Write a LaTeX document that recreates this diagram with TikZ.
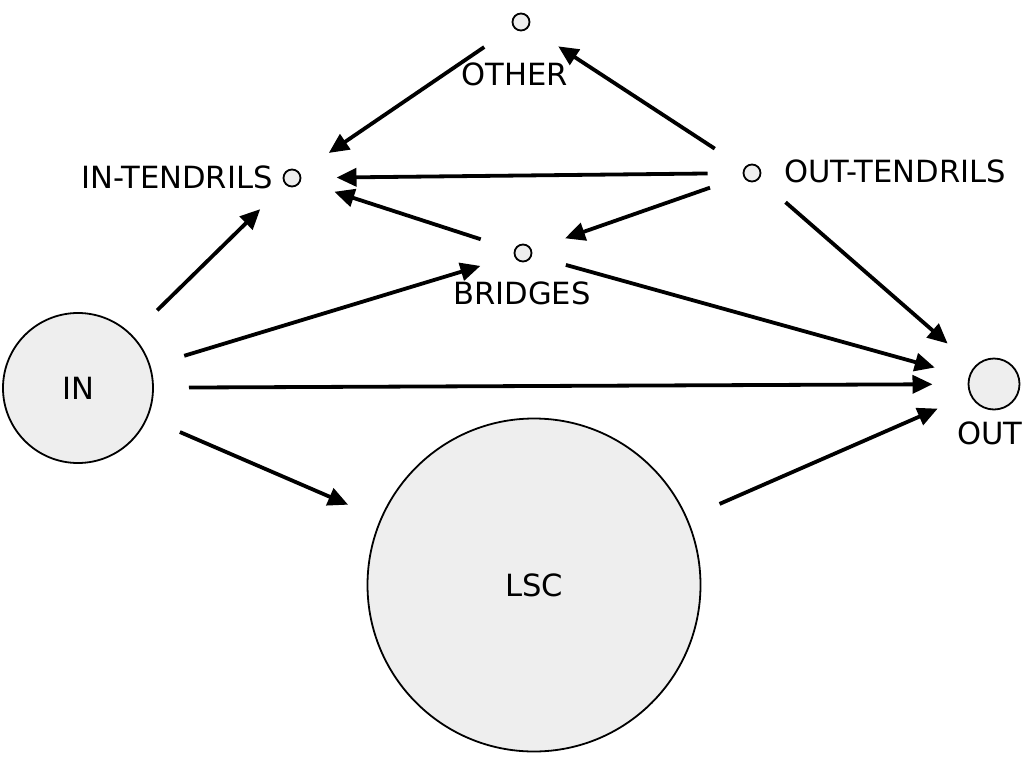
\documentclass[tikz,border=0pt]{standalone}
\usepackage{fontspec}
\setmainfont{DejaVu Sans}
\usepackage{xcolor}
\definecolor{Col1}{RGB}{238,238,238}
\usetikzlibrary{arrows.meta}
\tikzstyle{Node}=[circle,draw=black,fill=Col1,line width=1.8pt,
inner sep=0pt,outer sep=0pt]
\tikzstyle{Edge}=[draw=black,line width=3.8pt,
-{Triangle[length=20pt,width=18pt]},shorten <=36pt,shorten >=36pt]
\tikzstyle{NodeST}=[font=\fontsize{30.6}{36}\selectfont,inner sep=0pt]

\begin{document}
\begin{tikzpicture}[x=1pt,y=-1pt]
        \useasboundingbox(0,0)rectangle(1024,768);
        \node[Node,NodeST,minimum size=150pt](In)at(78,388){IN};
        \node[Node,NodeST,minimum size=333pt](Lsc)at(534,585){LSC};
        \node[Node,minimum size=51pt](Out)at(994,384){};
        \node[Node,minimum size=17pt](Ot)at(521,22){};
        \node[Node,minimum size=17pt](InT)at(292,178){};
        \node[Node,minimum size=17pt](OutT)at(752,173){};
        \node[Node,minimum size=17pt](Br)at(523,253){};
        \node[NodeST](OtL)at(515,74){OTHER};
        \node[NodeST](InTL)at(177,177){IN-TENDRILS};
        \node[NodeST](OutTL)at(895,171){OUT-TENDRILS};
        \node[NodeST](BrL)at(522,293){BRIDGES};
        \node[NodeST](OutL)at(990,433){OUT};
        \draw[Edge](Ot)--(InT);
        \draw[Edge](OutT)--(Ot);
        \draw[Edge](OutT)--(InT);
        \draw[Edge](Br)--(InT);
        \draw[Edge](OutT)--(Br);
        \draw[Edge](In)--(InT);
        \draw[Edge](In)--(Br);
        \draw[Edge](Br)--(Out);
        \draw[Edge](OutT)--(Out);
        \draw[Edge](In)--(Out);
        \draw[Edge](In)--(Lsc);
        \draw[Edge](Lsc)--(Out);
    \end{tikzpicture}
\end{document}
